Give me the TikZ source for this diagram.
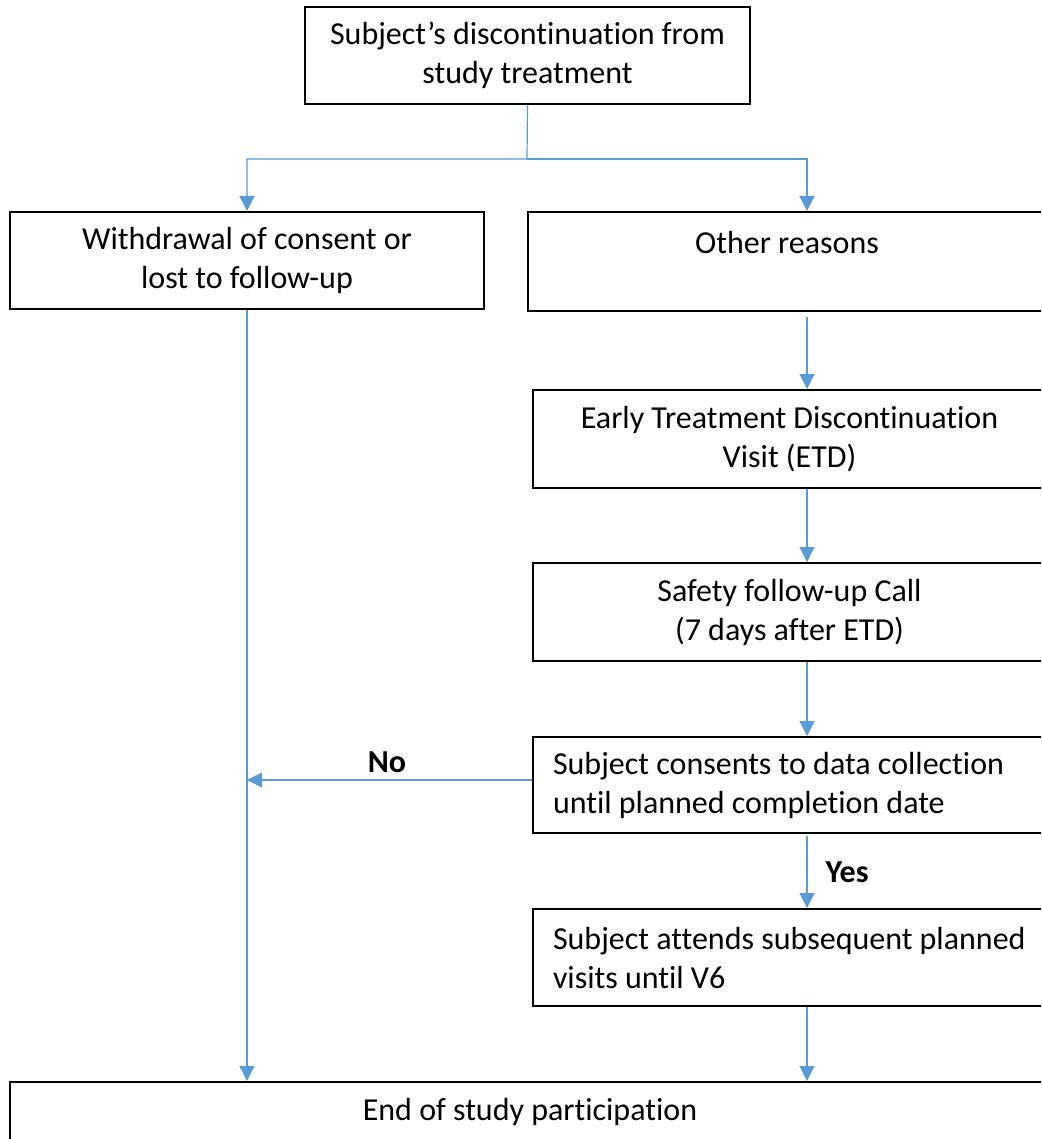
\documentclass[tikz,border=0pt]{standalone}
\usepackage{fontspec}
\setmainfont[Ligatures=NoCommon]{Carlito}
\usetikzlibrary{arrows.meta,positioning,calc}
\definecolor{conn}{RGB}{91,155,213}
\begin{document}
\begin{tikzpicture}[x=1pt,y=-1pt,
  font=\fontsize{32}{39}\selectfont,
  box/.style={draw=black,line width=2pt,rectangle,align=center,inner sep=0pt,minimum height=#1},
  box/.default=97pt,
  lbox/.style={draw=black,line width=2pt,rectangle,align=flush left,text width=473pt,inner xsep=20pt,inner ysep=0pt,minimum height=#1},
  lbox/.default=97pt,
  link/.style={draw=conn,line width=1.2pt,-{Triangle[width=15pt,length=15pt]}},
  lbl/.style={font=\fontsize{32}{39}\selectfont\bfseries,inner sep=0pt}]
\useasboundingbox (0,0) rectangle (1041,1139);
\clip (0,0) rectangle (1041,1139);

\node[box, minimum width=445pt] (top) at (527.5,55.5) {Subject’s discontinuation from\\study treatment};
\node[box, minimum width=474pt] (left) at (247,260.5) {Withdrawal of consent or\\lost to follow-up};
\node[box=99pt, minimum width=518pt] (other) at (787,261.5) {Other reasons\\\mbox{}};
\node[box=98pt, minimum width=513pt] (etd) at (789.5,439) {Early Treatment Discontinuation\\Visit (ETD)};
\node[box=98pt, minimum width=513pt] (safety) at (789.5,612) {Safety follow-up Call\\(7 days after ETD)};
\node[lbox=96pt] (consent) at (789.5,785) {Subject consents to data collection\\until planned completion date};
\node[lbox=97pt] (attends) at (789.5,957.5) {Subject attends subsequent planned\\visits until V6};
\node[box=60pt, minimum width=1040pt] (endbox) at (530,1112) {End of study participation};

\coordinate (rx) at (807,0);
\coordinate (split) at (527,159);

\draw[link] (top.south) -- (split) -| (left.north);
\draw[link] (split) -| (other.north -| rx);
\draw[link] ([yshift=-5pt]other.south -| rx) -- (etd.north -| rx);
\draw[link] (etd.south -| rx) -- (safety.north -| rx);
\draw[link] (safety.south -| rx) -- (consent.north -| rx);
\draw[link] ([yshift=-2pt]consent.south -| rx) -- (attends.north -| rx)
  node[lbl, pos=0.5, right=18pt] (yes) {Yes};
\draw[link] (attends.south -| rx) -- (endbox.north -| rx);
\draw[link] (left.south) -- (endbox.north -| left.south);
\coordinate (noend) at ([yshift=5pt]consent.west -| left.south);
\draw[link] ([yshift=5pt]consent.west) -- (noend);
\node[lbl] (no) at (387,762) {No};
\end{tikzpicture}
\end{document}
